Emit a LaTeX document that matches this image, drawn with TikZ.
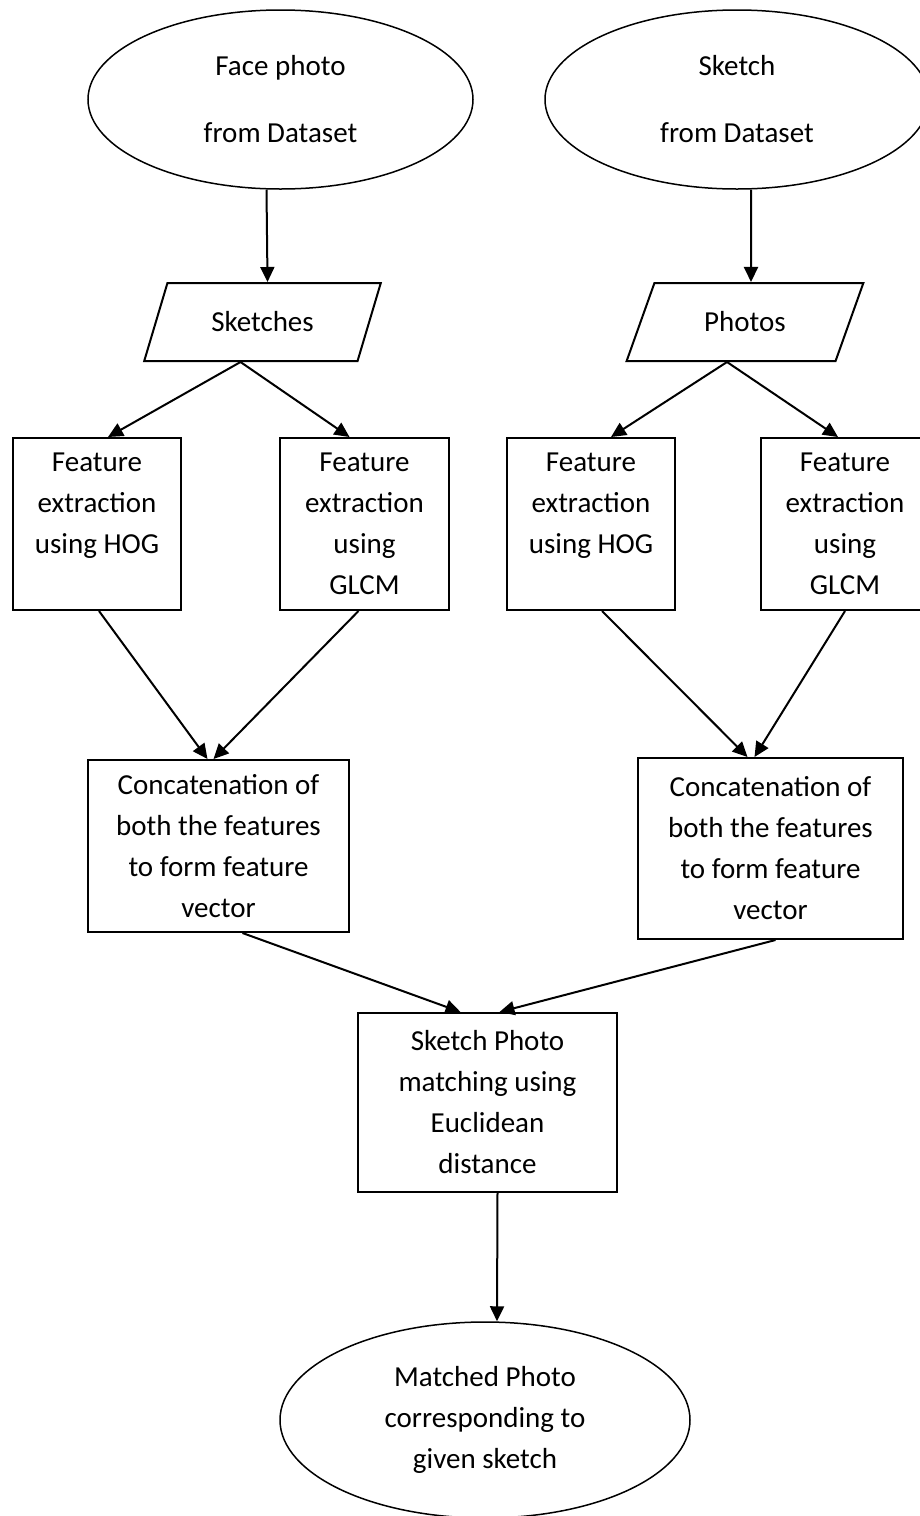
\documentclass[tikz,border=0pt]{standalone}
\usepackage{fontspec}
\setmainfont{Carlito}
\usetikzlibrary{shapes.geometric,arrows.meta}
\begin{document}
\begin{tikzpicture}[x=1pt,y=-1pt,
  txt/.style={font=\fontsize{29}{41}\selectfont, align=center, inner sep=0pt},
  oval/.style={txt, ellipse, draw, line width=1.5pt},
  iobox/.style={txt, trapezium, trapezium left angle=58.4, trapezium right angle=121.6, draw, line width=2pt, minimum width=237pt, minimum height=78pt, trapezium stretches},
  proc/.style={txt, rectangle, draw, line width=2pt},
  arr/.style={line width=2pt, -{Triangle[length=15pt,width=14pt]}}]
\useasboundingbox (0,0) rectangle (919,1516);
\node[oval, minimum width=385pt, minimum height=179pt] (face) at (280.5,99.5){Face photo\\[26pt]from Dataset};
\node[oval, minimum width=384pt, minimum height=179pt] (sk) at (737,99.5){Sketch\\[26pt]from Dataset};
\node[iobox] (skt) at (262.5,322){Sketches};
\node[iobox] (pho) at (745,322){Photos};
\node[proc, minimum width=168pt, minimum height=172pt] (hogA) at (97,524){Feature\\extraction\\using HOG\\\phantom{GLCM}};
\node[proc, minimum width=169pt, minimum height=172pt] (glcmA) at (364.5,524){Feature\\extraction\\using\\GLCM};
\node[proc, minimum width=168pt, minimum height=172pt] (hogB) at (591,524){Feature\\extraction\\using HOG\\\phantom{GLCM}};
\node[proc, minimum width=168pt, minimum height=172pt] (glcmB) at (845,524){Feature\\extraction\\using\\GLCM};
\node[proc, minimum width=261pt, minimum height=172pt] (catA) at (218.5,846){Concatenation of\\both the features\\to form feature\\vector};
\node[proc, minimum width=265pt, minimum height=181pt] (catB) at (770.5,848.5){Concatenation of\\both the features\\to form feature\\vector};
\node[proc, minimum width=259pt, minimum height=179pt] (match) at (487.5,1102.5){Sketch Photo\\matching using\\Euclidean\\distance};
\node[oval, minimum width=410pt, minimum height=196pt] (res) at (485,1420){Matched Photo\\corresponding to\\given sketch};
\draw[arr] ([xshift=-14pt]face.south) -- ([xshift=5pt]skt.north);
\draw[arr] ([xshift=14pt]sk.south) -- ([xshift=6pt]pho.north);
\draw[arr] ([xshift=-22pt]skt.south) -- ([xshift=11pt]hogA.north);
\draw[arr] ([xshift=-22pt]skt.south) -- ([xshift=-15pt]glcmA.north);
\draw[arr] ([xshift=-18pt]pho.south) -- ([xshift=20pt]hogB.north);
\draw[arr] ([xshift=-18pt]pho.south) -- ([xshift=-7pt]glcmB.north);
\draw[arr] ([xshift=2pt]hogA.south) -- ([xshift=-11pt]catA.north);
\draw[arr] ([xshift=-6pt]glcmA.south) -- ([xshift=-5pt]catA.north);
\draw[arr] ([xshift=11pt]hogB.south) -- ([xshift=-23pt]catB.north);
\draw[arr] (glcmB.south) -- ([xshift=-16pt]catB.north);
\draw[arr] ([xshift=24pt]catA.south) -- ([xshift=-27pt]match.north);
\draw[arr] ([xshift=5pt]catB.south) -- ([xshift=12pt]match.north);
\draw[arr] ([xshift=10pt]match.south) -- ([xshift=12pt]res.north);
\end{tikzpicture}
\end{document}
